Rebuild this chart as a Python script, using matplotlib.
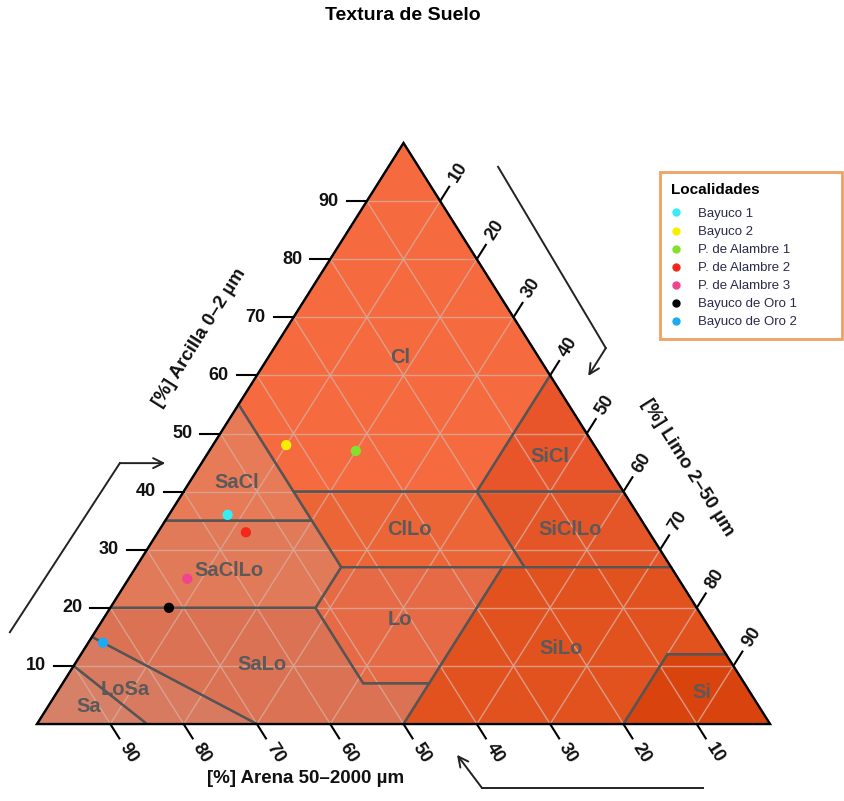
import numpy as np
import matplotlib.pyplot as plt
from matplotlib.patches import Polygon
from matplotlib.lines import Line2D

plt.rcParams['font.family'] = ['Liberation Sans', 'DejaVu Sans']

# Muestras (%): arcilla, limo, arena
localidades = ['Bayuco 1', 'Bayuco 2', 'P. de Alambre 1', 'P. de Alambre 2',
               'P. de Alambre 3', 'Bayuco de Oro 1', 'Bayuco de Oro 2']
arcilla = [36, 48, 47, 33, 25, 20, 14]
limo = [8, 10, 20, 12, 8, 8, 2]
arena = [56, 42, 33, 55, 67, 72, 84]
colores = ['#35eef3', '#f8ef00', '#82e02e', '#f3281b', '#f2438f', '#000000', '#1ea9f3']

# Clases texturales USDA, vertices en (arcilla, limo, arena)
clases = {
    'Cl': [(100, 0, 0), (55, 0, 45), (40, 15, 45), (40, 40, 20), (60, 40, 0)],
    'SiCl': [(60, 40, 0), (40, 40, 20), (40, 60, 0)],
    'SaCl': [(55, 0, 45), (35, 0, 65), (35, 20, 45), (40, 15, 45)],
    'ClLo': [(40, 15, 45), (27, 28, 45), (27, 53, 20), (40, 40, 20)],
    'SiClLo': [(40, 40, 20), (27, 53, 20), (27, 73, 0), (40, 60, 0)],
    'SaClLo': [(35, 0, 65), (20, 0, 80), (20, 28, 52), (27, 28, 45), (35, 20, 45)],
    'Lo': [(27, 28, 45), (20, 28, 52), (7, 41, 52), (7, 50, 43), (27, 50, 23)],
    'SiLo': [(27, 50, 23), (7, 50, 43), (0, 50, 50), (0, 80, 20), (12, 80, 8),
             (12, 88, 0), (27, 73, 0)],
    'SaLo': [(20, 0, 80), (15, 0, 85), (0, 30, 70), (0, 50, 50), (7, 50, 43),
             (7, 41, 52), (20, 28, 52)],
    'LoSa': [(15, 0, 85), (10, 0, 90), (0, 15, 85), (0, 30, 70)],
    'Sa': [(10, 0, 90), (0, 0, 100), (0, 15, 85)],
    'Si': [(12, 80, 8), (0, 80, 20), (0, 100, 0), (12, 88, 0)],
}
colores_clase = {
    'Cl': '#f56a3e', 'SiCl': '#e8552a', 'SaCl': '#e77a57', 'ClLo': '#ec6537',
    'SiClLo': '#e45628', 'SaClLo': '#e07a58', 'Lo': '#e56a45', 'SiLo': '#e1521f',
    'SaLo': '#da7253', 'LoSa': '#d87a5f', 'Sa': '#d78068', 'Si': '#d8430e',
}
# posicion de las etiquetas de clase (arcilla, limo, arena)
pos_etiqueta = {
    'Cl': (63, 18, 19), 'SiCl': (46, 47, 7), 'SaCl': (41.5, 6.5, 52),
    'ClLo': (33.5, 34, 32.5), 'SiClLo': (33.5, 56, 10.5), 'SaClLo': (26.5, 13, 60.5),
    'Lo': (18, 40.5, 41.5), 'SiLo': (13, 65, 22), 'SaLo': (10.3, 25.5, 64.2),
    'LoSa': (6, 9, 85), 'Sa': (3, 5.5, 91.5), 'Si': (5.5, 88, 6.5),
}
marcas = np.arange(10, 100, 10)


def xy(c, s):
    """arcilla, limo -> coordenadas del plano"""
    return s + c / 2.0, c


fig = plt.figure(figsize=(8.45, 8.01), dpi=100)
ax = fig.add_axes([0, 0, 1, 1])
ax.set_xlim(-5.048, 110.23)
ax.set_ylim(-13.25, 124.61)
ax.axis('off')

# px por unidad de datos
kx = 845 / (110.23 + 5.048)
ky = 801 / (124.61 + 13.25)

# poligonos de las clases
for nombre, verts in clases.items():
    pts = [xy(c, s) for c, s, a in verts]
    ax.add_patch(Polygon(pts, closed=True, facecolor=colores_clase[nombre],
                         edgecolor='none', zorder=1))

# rejilla cada 10 %
gl = dict(color='#d9a898', lw=1.0, alpha=0.85, zorder=2)
for k in marcas:
    x0, y0 = xy(k, 0); x1, y1 = xy(k, 100 - k)
    ax.plot([x0, x1], [y0, y1], **gl)
    x0, y0 = xy(100 - k, k); x1, y1 = xy(0, k)
    ax.plot([x0, x1], [y0, y1], **gl)
    x0, y0 = xy(100 - k, 0); x1, y1 = xy(0, 100 - k)
    ax.plot([x0, x1], [y0, y1], **gl)

# bordes de las clases
for nombre, verts in clases.items():
    pts = [xy(c, s) for c, s, a in verts]
    ax.add_patch(Polygon(pts, closed=True, facecolor='none',
                         edgecolor='#555555', lw=1.6, zorder=3))

# triangulo exterior
tri = [xy(0, 0), xy(0, 100), xy(100, 0)]
ax.add_patch(Polygon(tri, closed=True, facecolor='none', edgecolor='black',
                     lw=1.6, zorder=4))

for nombre, (c, s, a) in pos_etiqueta.items():
    x, y = xy(c, s)
    ax.text(x, y, nombre, ha='center', va='center', fontsize=14.5,
            fontweight='bold', color='#5a5a5a', zorder=5)

# marcas de los ejes
ux, uy = 366 / 686.7, 581 / 686.7
fk = dict(fontsize=13, fontweight='bold', color='#111111')
for k in marcas:
    # arcilla (izquierda)
    x, y = xy(k, 0)
    ax.plot([x, x - 20 / kx], [y, y], color='black', lw=1.5, zorder=4)
    ax.text(x - 38 / kx, y, str(k), ha='center', va='center', **fk)
    # limo (derecha)
    x, y = xy(100 - k, k)
    ax.plot([x, x + 17 * ux / kx], [y, y + 17 * uy / ky], color='black', lw=1.5)
    ax.text(x + 34 * ux / kx, y + 34 * uy / ky, str(k), ha='center', va='center',
            rotation=57.8, rotation_mode='anchor', **fk)
    # arena (abajo)
    x, y = xy(0, 100 - k)
    ax.plot([x, x + 17 * ux / kx], [y, y - 17 * uy / ky], color='black', lw=1.5)
    ax.text(x + 34 * ux / kx, y - 34 * uy / ky, str(k), ha='center', va='center',
            rotation=-57.8, rotation_mode='anchor', **fk)

ft = dict(fontsize=13.5, fontweight='bold', color='#111111', ha='center', va='center')
ax.text(22.2, 66.4, '[%] Arcilla 0–2 µm', rotation=57.8, **ft)
ax.text(88.8, 44.1, '[%] Limo 2–50 µm', rotation=-57.8, **ft)
ax.text(36.7, -9.3, '[%] Arena 50–2000 µm', rotation=0, **ft)

# flechas de lectura
flechas = [
    [(62.9, 95.9), (77.6, 64.7), (75.2, 59.9)],
    [(-3.7, 15.8), (11.3, 44.9), (17.5, 44.9)],
    [(90.9, -11.0), (60.7, -11.0), (57.3, -5.3)],
]
for p0, p1, p2 in flechas:
    ax.plot([p0[0], p1[0]], [p0[1], p1[1]], color='#222222', lw=1.4)
    ax.annotate('', xy=p2, xytext=p1,
                arrowprops=dict(arrowstyle='->', color='#222222', lw=1.4,
                                shrinkA=0, shrinkB=0, mutation_scale=18))

# muestras
for nom, c, s, col in zip(localidades, arcilla, limo, colores):
    x, y = xy(c, s)
    ax.scatter(x, y, s=55, color=col, edgecolors='none', zorder=6)

handles = [Line2D([], [], marker='o', ls='none', color=col, markersize=5)
           for col in colores]
leg = fig.legend(handles, localidades, title='Localidades',
                 loc='upper left', bbox_to_anchor=(0.781, 0.785, 0.215, 0.0),
                 mode='expand', alignment='left', fontsize=9.5,
                 title_fontproperties={'weight': 'bold', 'size': 11},
                 labelspacing=0.44, handletextpad=1.3, handlelength=0.8,
                 borderpad=0.8, borderaxespad=0, frameon=True, fancybox=False)
leg._legend_box.sep = 8
leg._legend_title_box.pad = 0
leg.get_frame().set_edgecolor('#ea8a3c')
leg.get_frame().set_linewidth(2)
for t in leg.get_texts():
    t.set_color('#2a2a4a')

fig.text(0.477, 1 - 15 / 801, 'Textura de Suelo', ha='center', va='center',
         fontsize=14, fontweight='bold')

fig.savefig('out.png', dpi=100)
